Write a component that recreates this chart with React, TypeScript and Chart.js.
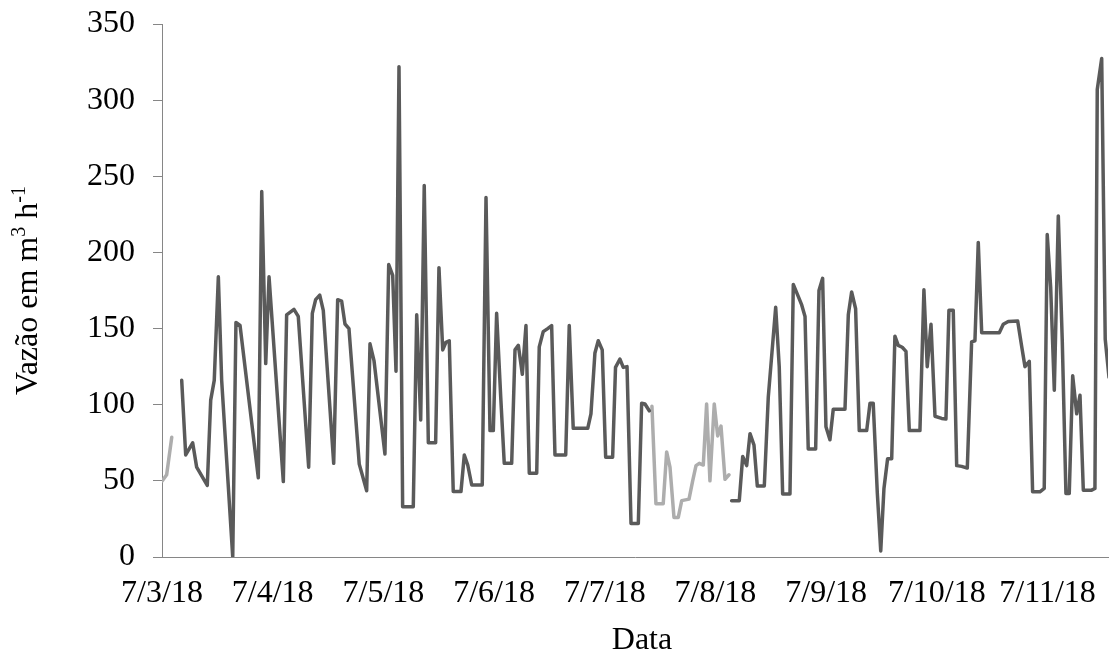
import React, { useEffect, useRef } from "react";
import { Chart, registerables } from "chart.js";

Chart.register(...registerables);

// x = days since 7/3/18 00:00, y = flow (m³ h⁻¹)
const dateLabels = ["7/3/18", "7/4/18", "7/5/18", "7/6/18", "7/7/18", "7/8/18", "7/9/18", "7/10/18", "7/11/18"];
const xTitle = "Data";

const lightSegment1: [number, number][] = [[0.003, 50], [0.042, 54], [0.088, 78.6]];

const darkSegmentA: [number, number][] = [
  [0.178, 116], [0.214, 67], [0.277, 75], [0.313, 59], [0.409, 47], [0.44, 103], [0.472, 116], [0.509, 184],
  [0.539, 116], [0.639, 0], [0.668, 154], [0.705, 152], [0.87, 52], [0.901, 240], [0.937, 127], [0.967, 184],
  [1.096, 49.5], [1.126, 159], [1.192, 162.6], [1.231, 158], [1.325, 59], [1.358, 160], [1.388, 169], [1.425, 172],
  [1.457, 162], [1.551, 61.5], [1.587, 169], [1.623, 168], [1.653, 153], [1.689, 150], [1.782, 61], [1.849, 43.5],
  [1.879, 140], [1.915, 129], [2.014, 67.6], [2.048, 192], [2.084, 185], [2.114, 122], [2.141, 322], [2.174, 33],
  [2.27, 33], [2.301, 159], [2.337, 90], [2.369, 244], [2.406, 75], [2.472, 75], [2.502, 190], [2.536, 136],
  [2.565, 141], [2.595, 142], [2.631, 43], [2.701, 43], [2.731, 67], [2.762, 60.4], [2.798, 47.3], [2.893, 47.3],
  [2.927, 236], [2.963, 83], [2.993, 83], [3.023, 160], [3.06, 105], [3.092, 61.5], [3.159, 61.5], [3.189, 136],
  [3.219, 139], [3.255, 120], [3.288, 152], [3.318, 55], [3.385, 55], [3.408, 138], [3.444, 148], [3.484, 150],
  [3.52, 152], [3.55, 67], [3.647, 67], [3.679, 152], [3.715, 84.5], [3.846, 84.5], [3.875, 94], [3.911, 134],
  [3.941, 142], [3.977, 136], [4.008, 65.5], [4.071, 65.5], [4.097, 124.5], [4.137, 130], [4.167, 124.5], [4.201, 125],
  [4.237, 22], [4.303, 22], [4.333, 101], [4.363, 100.5], [4.402, 96],
];

const lightSegment2: [number, number][] = [
  [4.426, 99], [4.462, 35], [4.528, 35], [4.559, 69], [4.589, 59], [4.625, 26], [4.664, 26], [4.695, 37],
  [4.761, 38], [4.794, 50], [4.824, 60], [4.854, 61.5], [4.89, 60.4], [4.92, 100.5], [4.95, 50], [4.989, 100.5],
  [5.02, 79.5], [5.05, 86], [5.086, 51], [5.122, 54],
];

const darkSegmentB: [number, number][] = [
  [5.146, 37], [5.215, 37], [5.246, 66], [5.282, 60], [5.312, 81], [5.348, 73.5], [5.378, 46.6], [5.441, 46.6],
  [5.477, 105], [5.51, 134], [5.544, 164], [5.576, 125], [5.607, 41.4], [5.673, 41.4], [5.703, 179], [5.743, 172],
  [5.779, 165.5], [5.809, 158], [5.838, 71], [5.905, 71], [5.935, 175], [5.968, 183], [5.998, 85.6], [6.034, 77],
  [6.064, 97], [6.17, 97], [6.2, 159], [6.23, 174], [6.266, 163], [6.299, 83], [6.366, 83], [6.396, 101],
  [6.425, 101], [6.462, 42], [6.493, 4], [6.522, 45], [6.555, 64.5], [6.592, 64.5], [6.621, 145], [6.651, 139],
  [6.687, 137.7], [6.721, 135], [6.751, 83], [6.847, 83], [6.883, 175.5], [6.913, 125], [6.947, 152.8], [6.983, 92.4],
  [7.043, 91], [7.082, 90.6], [7.109, 162], [7.148, 162], [7.179, 60], [7.224, 59.5], [7.275, 58.4], [7.314, 141.3],
  [7.344, 142], [7.374, 206.6], [7.405, 147.3], [7.564, 147.3], [7.6, 152.8], [7.645, 154.6], [7.73, 155], [7.766, 138.4],
  [7.796, 125], [7.835, 128.4], [7.865, 42.8], [7.931, 42.8], [7.97, 45], [7.997, 211.7], [8.028, 177.3], [8.061, 109.5],
  [8.097, 224], [8.133, 141.7], [8.166, 41.7], [8.196, 41.7], [8.227, 119], [8.263, 94], [8.293, 106.2], [8.323, 43.9],
  [8.398, 43.9], [8.428, 45], [8.449, 307], [8.489, 327.3], [8.521, 143], [8.555, 118],
];

const yTicksMax = 350;
const yStep = 50;
const xMax = 8.546;

const toPoints = (segs: [number, number][][]) => {
  const out: { x: number; y: number | null }[] = [];
  segs.forEach((seg, i) => {
    if (i > 0) out.push({ x: (seg[0][0] + segs[i - 1][segs[i - 1].length - 1][0]) / 2, y: null });
    seg.forEach(([x, y]) => out.push({ x, y }));
  });
  return out;
};

const FONT_FAMILY = '"Liberation Serif", "Times New Roman", serif';

const titlesPlugin = {
  id: "axisTitles",
  afterDraw(chart: any) {
    const { ctx, chartArea } = chart;
    const base = `32px ${FONT_FAMILY}`;
    const sup = `20px ${FONT_FAMILY}`;
    const parts = [
      { t: "Vazão em m", f: base, dy: 0 },
      { t: "3", f: sup, dy: -12 },
      { t: " h", f: base, dy: 0 },
      { t: "-1", f: sup, dy: -12 },
    ];
    ctx.save();
    let total = 0;
    parts.forEach((p) => {
      ctx.font = p.f;
      total += ctx.measureText(p.t).width;
    });
    const cy = (chartArea.top + chartArea.bottom) / 2;
    ctx.translate(37, cy);
    ctx.rotate(-Math.PI / 2);
    ctx.textBaseline = "alphabetic";
    ctx.textAlign = "left";
    ctx.fillStyle = "#000";
    let x = -total / 2;
    parts.forEach((p) => {
      ctx.font = p.f;
      ctx.fillText(p.t, x, p.dy);
      x += ctx.measureText(p.t).width;
    });
    ctx.restore();

    // x-axis title (Excel places it slightly right of the plot centre)
    ctx.save();
    ctx.font = base;
    ctx.fillStyle = "#000";
    ctx.textAlign = "center";
    ctx.textBaseline = "middle";
    ctx.fillText(xTitle, (chartArea.left + chartArea.right) / 2 + 7, 641);
    ctx.restore();
  },
};

export default function App() {
  const ref = useRef<HTMLCanvasElement | null>(null);
  useEffect(() => {
    if (!ref.current) return;
    const chart = new Chart(ref.current, {
      type: "line",
      data: {
        datasets: [
          {
            data: toPoints([darkSegmentA, darkSegmentB]) as any,
            borderColor: "#5a5a5a",
            borderWidth: 3.5,
            pointRadius: 0,
            tension: 0,
            spanGaps: false,
            borderJoinStyle: "round",
            borderCapStyle: "round",
          },
          {
            data: toPoints([lightSegment1, lightSegment2]) as any,
            borderColor: "#adadad",
            borderWidth: 3.5,
            pointRadius: 0,
            tension: 0,
            spanGaps: false,
            borderJoinStyle: "round",
            borderCapStyle: "round",
          },
        ],
      },
      options: {
        responsive: false,
        animation: false,
        layout: { padding: { left: 0, top: 24, right: 2, bottom: 0 } },
        plugins: { legend: { display: false }, tooltip: { enabled: false } },
        scales: {
          x: {
            type: "linear",
            min: 0,
            max: xMax,
            afterFit: (s: any) => {
              s.height = 98;
              s.paddingLeft = 0;
              s.paddingRight = 0;
            },
            afterBuildTicks: (s: any) => {
              s.ticks = dateLabels.map((_, i) => ({ value: i }));
            },
            grid: { drawOnChartArea: false, drawTicks: false },
            border: { display: true, color: "#868686", width: 1 },
            ticks: {
              autoSkip: false,
              maxRotation: 0,
              padding: 17,
              color: "#000",
              font: { family: FONT_FAMILY, size: 32 },
              callback: (_v: any, i: number) => dateLabels[i],
            },
            title: { display: false },
          },
          y: {
            min: 0,
            max: yTicksMax,
            afterFit: (s: any) => {
              s.width = 162;
              s.paddingTop = 0;
              s.paddingBottom = 0;
            },
            grid: { drawOnChartArea: false, drawTicks: true, tickLength: 9, color: "#868686" },
            border: { display: true, color: "#868686", width: 1 },
            ticks: {
              stepSize: yStep,
              padding: 18,
              color: "#000",
              font: { family: FONT_FAMILY, size: 32 },
            },
          },
        },
      },
      plugins: [titlesPlugin],
    });
    return () => chart.destroy();
  }, []);
  return (
    <div style={{ position: "absolute", left: 0, top: 0, width: 1110, height: 655, background: "#fff" }}>
      <canvas ref={ref} width={1110} height={655} style={{ display: "block" }} />
    </div>
  );
}
